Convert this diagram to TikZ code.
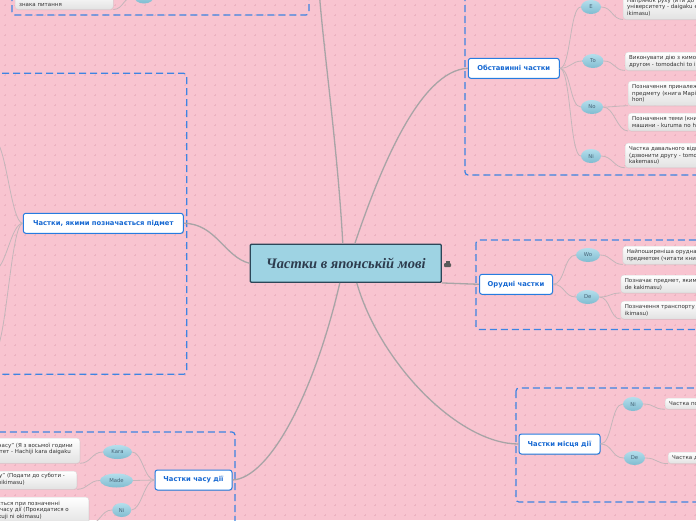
\documentclass[tikz,border=0pt]{standalone}
\usepackage{fontspec}
\setmainfont{Liberation Serif}
\setsansfont{DejaVu Sans}
\usetikzlibrary{shapes.geometric,shadows,calc}
\definecolor{bgpink}{RGB}{248,196,208}
\definecolor{dotpink}{RGB}{236,178,193}
\definecolor{dashblue}{RGB}{62,132,226}
\definecolor{topicblue}{RGB}{38,124,224}
\definecolor{topictext}{RGB}{22,104,210}
\definecolor{maingray}{RGB}{168,164,166}
\definecolor{subgray}{RGB}{196,182,186}
\definecolor{ovaltop}{RGB}{180,222,236}
\definecolor{ovalbot}{RGB}{128,188,208}
\definecolor{ovaltext}{RGB}{70,100,118}
\definecolor{notebot}{RGB}{226,226,226}
\definecolor{noteedge}{RGB}{214,214,214}
\definecolor{notetext}{RGB}{50,50,50}
\definecolor{centerfill}{RGB}{158,211,227}
\definecolor{centeredge}{RGB}{44,70,88}
\definecolor{centertext}{RGB}{45,60,78}
\definecolor{icongray}{RGB}{90,90,90}
\newcommand{\hubfont}{\rmfamily\bfseries\itshape\fontsize{14.5}{16}\selectfont}
\newcommand{\topicfont}{\sffamily\bfseries\fontsize{6.8}{8}\selectfont}
\newcommand{\pillfont}{\sffamily\fontsize{5.3}{6}\selectfont}
\newcommand{\notefont}{\sffamily\fontsize{5.5}{6.8}\selectfont}
\begin{document}
\begin{tikzpicture}[x=1pt,y=-1pt,
 dbox/.style={draw=dashblue,line width=1.2pt,dash pattern=on 7pt off 4pt,rounded corners=3pt},
 hub/.style={draw=centeredge,line width=1.3pt,fill=centerfill,minimum width=191pt,minimum height=38pt,inner sep=0pt,font=\hubfont,text=centertext,rounded corners=1pt},
 topic/.style={draw=topicblue,line width=1pt,fill=white,rounded corners=2.5pt,minimum height=20pt,inner sep=0pt,font=\topicfont,text=topictext,drop shadow={shadow xshift=0.6pt,shadow yshift=-0.9pt,opacity=0.3}},
 pill/.style={ellipse,minimum width=#1,minimum height=14pt,inner sep=0pt,top color=ovaltop,bottom color=ovalbot,font=\pillfont,text=ovaltext},
 pill/.default=21pt,
 notebx/.style={rounded corners=3pt,top color=white,bottom color=notebot,draw=noteedge,line width=0.3pt,font=\notefont,text=notetext,align=left,inner xsep=4pt,inner ysep=3pt,anchor=north west,text width=300pt,drop shadow={shadow xshift=0.4pt,shadow yshift=-0.8pt,opacity=0.15}},
 notebox/.style={rounded corners=3pt,top color=white,bottom color=notebot,draw=noteedge,line width=0.3pt,inner sep=0pt,anchor=north east,minimum width=160pt,drop shadow={shadow xshift=0.4pt,shadow yshift=-0.8pt,opacity=0.15}},
 noteline/.style={font=\notefont,text=notetext,inner sep=0pt,anchor=base east},
 mainl/.style={draw=maingray,line width=1.3pt},
 subl/.style={draw=subgray,line width=0.8pt},
]
\useasboundingbox (0,0) rectangle (696,520);
\clip (0,0) rectangle (696,520);
\fill[bgpink] (0,0) rectangle (696,520);
\draw[dotpink,line width=0.5pt] \foreach \i in {0,...,69} { \foreach \j in {0,...,51} { ({4+10*\i},{5+10*\j}) -- ++(2,0) ({5+10*\i},{4+10*\j}) -- ++(0,2) } };

% dashed group frames
\draw[dbox] (12,-20) rectangle (309,15);
\draw[dbox] (-20,73.3) rectangle (186.7,374.3);
\draw[dbox] (465,-20) rectangle (720,175);
\draw[dbox] (476,240) rectangle (720,329.5);
\draw[dbox] (516,388) rectangle (720,502);
\draw[dbox] (-20,432) rectangle (235,540);

% central node
\node[hub] (c) at (345.8,263.3) {Частки в японській мові};
\node[fill=icongray,minimum width=7pt,minimum height=4pt,inner sep=0pt,rounded corners=1pt] (icon) at (447.5,265) {};
\node[fill=icongray,minimum width=4pt,minimum height=3pt,inner sep=0pt] (icontop) at (447.5,262) {};

% top-left group
\node[notebx,anchor=south west,text width=90pt] (q) at (15,9.5) {Позначення питання замість\\знака питання};
\node[pill=20pt] (qo) at (144,-3.5) {};
\coordinate (tl) at (319,-12);

% subject group
\node[topic,minimum width=160pt] (subj) at (103.3,223.3) {Частки, якими позначається підмет};
\coordinate (s1) at (-6,140);
\coordinate (s2) at (-6,270);
\coordinate (s3) at (-6,352);

% circumstantial group
\node[topic,minimum width=91pt] (ob) at (513.8,68.3) {Обставинні частки};
\node[pill=20pt] (o1) at (591,7) {E};
\node[pill=21pt] (o2) at (593,61) {To};
\node[pill=22pt] (o3) at (592,107) {No};
\node[pill=20pt] (o4) at (591,156) {Ni};
\node[notebx,anchor=south west] (eb) at (623,19.5) {Напрямок руху (йти до\\університету - daigaku e\\ikimasu)};
\node[notebx] (tob) at (625,52) {Виконувати дію з кимось (йти з\\другом - tomodachi to ikimasu)};
\node[notebx] (nob1) at (628,81) {Позначення приналежності\\предмету (книга Марії - Mari no\\hon)};
\node[notebx] (nob2) at (628,113) {Позначення теми (книга про\\машини - kuruma no hon)};
\node[notebx] (nib) at (625,143) {Частка давального відмінку\\(дзвонити другу - tomodachi ni denwa wo\\kakemasu)};

% instrumental group
\node[topic,minimum width=73pt] (or) at (516,284.3) {Орудні частки};
\node[pill=24pt] (wo) at (588,255) {Wo};
\node[pill=23pt] (de1) at (587.7,297) {De};
\node[notebx] (wob) at (622.7,246) {Найпоширеніша орудна частка, дія над\\предметом (читати книгу - hon wo yomimasu)};
\node[notebx] (deb1) at (620.7,275) {Позначає предмет, яким виконується дія (писати ручкою - pen\\de kakimasu)};
\node[notebx] (deb2) at (620.7,301) {Позначення транспорту (їхати автобусом - basu de\\ikimasu)};

% place group
\node[topic,minimum width=81pt] (mi) at (559.5,444) {Частки місця дії};
\node[pill=20pt] (mni) at (633,404) {Ni};
\node[pill=21pt] (mde) at (634.5,458) {De};
\node[notebx] (mnib) at (665,398) {Частка позначення місця};
\node[notebx] (mdeb) at (668,452) {Частка дії в певному місці};

% time group
\node[topic,minimum width=77pt] (ch) at (193.5,480) {Частки часу дії};
\node[pill=29pt] (kara) at (117.5,452) {Kara};
\node[pill=33pt] (made) at (116.5,480.5) {Made};
\node[pill=19pt] (cni) at (121.7,510) {Ni};
\node[notebox,minimum height=25pt] (karab) at (80,438) {};
\node[notebox,minimum height=18pt] (madeb) at (77,471) {};
\node[notebox,minimum height=27pt] (cnib) at (89,497) {};
\node[noteline] (k1) at (73,447) {Позначення початкового часу" (Я з восьмої години};
\node[noteline] (k2) at (71,453.8) {ходжу в університет - Hachiji kara daigaku};
\node[noteline] (m1) at (65,477) {Позначення кінцевого часу" (Подати до суботи -};
\node[noteline] (m2) at (25,484) {doyoubi made ni hikimasu)};
\node[noteline] (n1) at (60,505) {Використовується при позначенні};
\node[noteline] (n2) at (69,511.8) {точного часу дії (Прокидатися о};
\node[noteline] (n3) at (42,518.6) {шостій - Rokuji ni okimasu)};

% main connectors
\draw[mainl] ([xshift=-3pt]c.north) .. controls +(-5,-95) and +(3,50) .. (tl);
\draw[mainl] ([xshift=9pt]c.north) .. controls +(25,-74) and +(-48,2) .. (ob.west);
\draw[mainl] (c.west) .. controls +(-25,-6) and +(32,0) .. (subj.east);
\draw[mainl] (c.south east) .. controls +(18,0) and +(-18,0) .. (or.west);
\draw[mainl] ([xshift=11pt]c.south) .. controls +(23,80) and +(-60,0) .. (mi.west);
\draw[mainl] ([xshift=-6pt]c.south) .. controls +(-25,108) and +(38,-2) .. (ch.east);

% sub connectors
\draw[subl] (qo.west) to[out=180,in=0,distance=10pt] (q.south east);
\draw[subl] (subj.west) to[out=180,in=0,distance=12pt] (s1);
\draw[subl] (subj.west) to[out=180,in=0,distance=12pt] (s2);
\draw[subl] (subj.west) to[out=180,in=0,distance=12pt] (s3);

\draw[subl] (ob.east) to[out=0,in=180,distance=11pt] (o1.west);
\draw[subl] (ob.east) to[out=0,in=180,distance=11pt] (o2.west);
\draw[subl] (ob.east) to[out=0,in=180,distance=11pt] (o3.west);
\draw[subl] (ob.east) to[out=0,in=180,distance=11pt] (o4.west);
\draw[subl] (o1.east) to[out=0,in=180,distance=11pt] (eb.south west);
\draw[subl] (o2.east) to[out=0,in=180,distance=11pt] (tob.south west);
\draw[subl] (o3.east) to[out=0,in=180,distance=11pt] (nob1.south west);
\draw[subl] (o3.east) to[out=0,in=180,distance=11pt] (nob2.south west);
\draw[subl] (o4.east) to[out=0,in=180,distance=11pt] (nib.south west);

\draw[subl] (or.east) to[out=0,in=180,distance=12pt] (wo.west);
\draw[subl] (or.east) to[out=0,in=180,distance=12pt] (de1.west);
\draw[subl] (wo.east) to[out=0,in=180,distance=11pt] (wob.south west);
\draw[subl] (de1.east) to[out=0,in=180,distance=11pt] (deb1.south west);
\draw[subl] (de1.east) to[out=0,in=180,distance=11pt] (deb2.south west);

\draw[subl] (mi.east) to[out=0,in=180,distance=12pt] (mni.west);
\draw[subl] (mi.east) to[out=0,in=180,distance=12pt] (mde.west);
\draw[subl] (mni.east) to[out=0,in=180,distance=12pt] (mnib.south west);
\draw[subl] (mde.east) to[out=0,in=180,distance=12pt] (mdeb.south west);

\draw[subl] (ch.west) to[out=180,in=0,distance=10pt] (kara.east);
\draw[subl] (ch.west) to[out=180,in=0,distance=10pt] (made.east);
\draw[subl] (ch.west) to[out=180,in=0,distance=10pt] (cni.east);
\draw[subl] (kara.west) to[out=180,in=0,distance=11pt] (karab.south east);
\draw[subl] (made.west) to[out=180,in=0,distance=11pt] (madeb.south east);
\draw[subl] (cni.west) to[out=180,in=0,distance=11pt] (cnib.south east);
\end{tikzpicture}
\end{document}
